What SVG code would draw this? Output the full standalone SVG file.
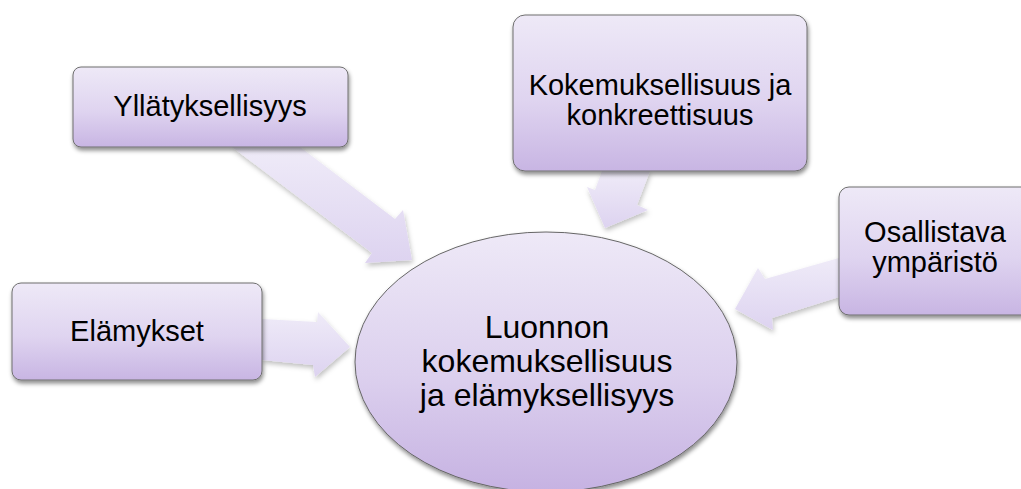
<svg xmlns="http://www.w3.org/2000/svg" width="1021" height="489" viewBox="0 0 1021 489">
<defs>
<linearGradient id="gBox" x1="0" y1="0" x2="0" y2="1">
<stop offset="0" stop-color="#eee9f7"/>
<stop offset="0.55" stop-color="#dfd4f0"/>
<stop offset="1" stop-color="#c8b5e3"/>
</linearGradient>
<linearGradient id="gEll" x1="0" y1="0" x2="0" y2="1">
<stop offset="0" stop-color="#eee9f7"/>
<stop offset="0.55" stop-color="#dcd0ee"/>
<stop offset="1" stop-color="#c6b2e2"/>
</linearGradient>
<linearGradient id="gArr" x1="0" y1="0" x2="0" y2="1">
<stop offset="0" stop-color="#efebf8"/>
<stop offset="1" stop-color="#ddd3f0"/>
</linearGradient>
<filter id="sh" x="-20%" y="-20%" width="140%" height="150%">
<feDropShadow dx="1" dy="3" stdDeviation="2.2" flood-color="#000" flood-opacity="0.45"/>
</filter>
<filter id="shA" x="-20%" y="-20%" width="140%" height="150%">
<feDropShadow dx="1" dy="3" stdDeviation="2.5" flood-color="#000" flood-opacity="0.25"/>
</filter>
</defs>
<style>
.box{fill:url(#gBox);stroke:#6f6f6f;stroke-width:1;filter:url(#sh)}
.ell{fill:url(#gEll);stroke:#666;stroke-width:1;filter:url(#sh)}
.arr{fill:url(#gArr);stroke:none;filter:url(#shA)}
.t{font-family:"Liberation Sans",Arial,sans-serif;fill:#000;text-anchor:middle}
.t29{font-size:29px}
.t32{font-size:32px}
</style>
<rect width="1021" height="489" fill="#fff"/>
<g id="connectors">
<polygon class="arr" points="232,147 300,147 395,219 403,210 412,260 365,263 372,253"/>
<polygon class="arr" points="602,171 650,171 637,205 648,210 605,228 587,187 595,190"/>
<polygon class="arr" points="262,319 317,322 318,312 350,347 315,377 313,365 262,360"/>
<polygon class="arr" points="839,258 765,279 758,268 735,309 773,330 772,318 839,297"/>
</g>
<g id="node-center">
<ellipse class="ell" cx="546" cy="362" rx="191" ry="130"/>
<text class="t t32" x="547" y="338">Luonnon</text>
<text class="t t32" x="547" y="372">kokemuksellisuus</text>
<text class="t t32" x="547" y="406">ja elämyksellisyys</text>
</g>
<g id="node-yllatyksellisyys">
<rect class="box" x="73" y="67" width="275" height="80" rx="8"/>
<text class="t t29" x="210" y="116">Yllätyksellisyys</text>
</g>
<g id="node-kokemuksellisuus">
<rect class="box" x="513" y="15" width="294" height="156" rx="12"/>
<text class="t t29" x="660" y="95">Kokemuksellisuus ja</text>
<text class="t t29" x="660" y="125">konkreettisuus</text>
</g>
<g id="node-elamykset">
<rect class="box" x="12" y="283" width="250" height="97" rx="9"/>
<text class="t t29" x="137" y="341">Elämykset</text>
</g>
<g id="node-osallistava">
<rect class="box" x="839" y="187" width="192" height="128" rx="10"/>
<text class="t t29" x="935" y="242">Osallistava</text>
<text class="t t29" x="935" y="272">ympäristö</text>
</g>
</svg>
